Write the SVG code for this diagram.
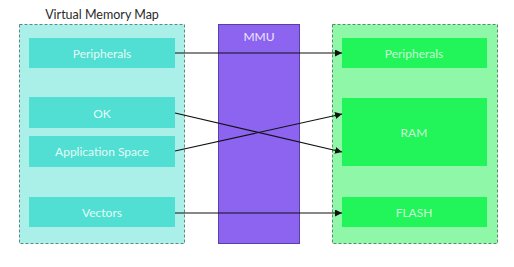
<svg xmlns="http://www.w3.org/2000/svg" width="514" height="267" viewBox="0 0 514 267">
<defs>
<style>
.vcont{fill:#aaf0e8;stroke:#5a8a86;stroke-width:1;stroke-dasharray:3,2}
.pcont{fill:#8ef8a8;stroke:#5a8a66;stroke-width:1;stroke-dasharray:3,2}
.vnode{fill:#50dfd2}
.pnode{fill:#22f559}
.lbl{font-family:Lato,"Open Sans",sans-serif;font-size:12px;fill:#e4fbf8;text-anchor:middle;dominant-baseline:central}
.plbl{font-family:Lato,"Open Sans",sans-serif;font-size:12px;fill:#c8fbd6;text-anchor:middle;dominant-baseline:central}
.edge{stroke:#111;stroke-width:1.2;fill:none;marker-end:url(#ah)}
</style>
<marker id="ah" viewBox="0 0 10 10" refX="10" refY="5" markerWidth="7" markerHeight="7" markerUnits="userSpaceOnUse" orient="auto">
<path d="M0,0 L10,5 L0,10 z" fill="#111"/>
</marker>
</defs>
<rect width="514" height="267" fill="#ffffff"/>
<g id="virtual-map">
<text x="102" y="14" font-family="Lato,'Open Sans',sans-serif" font-size="12.5" fill="#2a2a2a" text-anchor="middle" dominant-baseline="central">Virtual Memory Map</text>
<rect class="vcont" x="19.5" y="24.5" width="165" height="219"/>
</g>
<g id="v-peripherals"><rect class="vnode" x="29" y="38" width="146" height="30"/><text class="lbl" x="102" y="53">Peripherals</text></g>
<g id="v-ok"><rect class="vnode" x="29" y="97" width="146" height="31"/><text class="lbl" x="102" y="113">OK</text></g>
<g id="v-app"><rect class="vnode" x="29" y="136" width="146" height="31"/><text class="lbl" x="102" y="151">Application Space</text></g>
<g id="v-vectors"><rect class="vnode" x="29" y="197" width="146" height="30"/><text class="lbl" x="102" y="212">Vectors</text></g>
<g id="mmu"><rect x="218.5" y="24.5" width="81" height="219" fill="#8c64f0" stroke="#5a3fa8" stroke-width="1"/><text x="259" y="36" font-family="Lato,'Open Sans',sans-serif" font-size="12" fill="#ece4ff" text-anchor="middle" dominant-baseline="central">MMU</text></g>
<g id="physical-map"><rect class="pcont" x="332.5" y="24.5" width="165" height="219"/></g>
<g id="p-peripherals"><rect class="pnode" x="342" y="38" width="145" height="30"/><text class="plbl" x="414" y="53">Peripherals</text></g>
<g id="p-ram"><rect class="pnode" x="342" y="98" width="145" height="68"/><text class="plbl" x="414" y="132">RAM</text></g>
<g id="p-flash"><rect class="pnode" x="342" y="197" width="145" height="30"/><text class="plbl" x="414" y="212">FLASH</text></g>
<g id="connectors">
<line class="edge" x1="175" y1="53" x2="342" y2="53"/>
<line class="edge" x1="175" y1="113" x2="342" y2="152"/>
<line class="edge" x1="175" y1="151" x2="342" y2="114"/>
<line class="edge" x1="175" y1="213" x2="342" y2="213"/>
</g>
</svg>
